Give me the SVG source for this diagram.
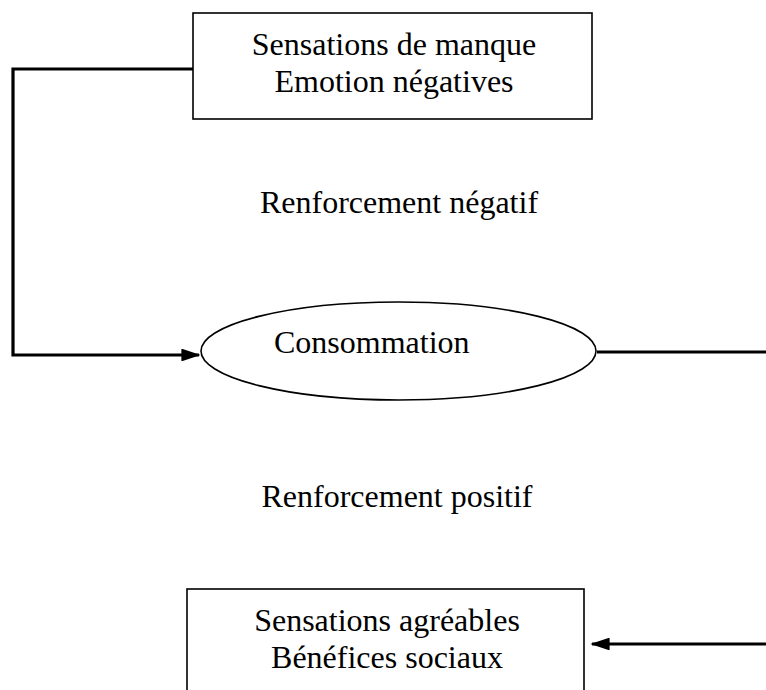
<svg xmlns="http://www.w3.org/2000/svg" width="766" height="690" viewBox="0 0 766 690">
<style>
.box{fill:#fff;stroke:#000;stroke-width:1.6}
.t{font-family:"Liberation Serif","Times New Roman",serif;font-size:32px;fill:#000}
.c{text-anchor:middle}
.conn{fill:none;stroke:#000;stroke-width:3.2}
</style>
<defs>
<marker id="ah" markerWidth="6" markerHeight="4" refX="5.5" refY="2" orient="auto" markerUnits="strokeWidth">
<path d="M0,0 L6,2 L0,4 Z" fill="#000"/>
</marker>
</defs>
<rect width="766" height="690" fill="#fff"/>
<g id="connectors">
<polyline class="conn" points="193,69 13,69 13,355 199,355" marker-end="url(#ah)"/>
<line class="conn" x1="597" y1="352" x2="766" y2="352"/>
<line class="conn" x1="766" y1="644" x2="592" y2="644" marker-end="url(#ah)"/>
</g>
<g id="n-manque">
<rect class="box" x="193" y="13" width="399" height="106"/>
<text class="t c" x="394" y="55">Sensations de manque</text>
<text class="t c" x="394" y="92">Emotion négatives</text>
</g>
<g id="l-negatif">
<text class="t c" x="399" y="213">Renforcement négatif</text>
</g>
<g id="n-consommation">
<ellipse class="box" cx="398.5" cy="351" rx="197.5" ry="49"/>
<text class="t" x="274" y="353">Consommation</text>
</g>
<g id="l-positif">
<text class="t c" x="397" y="507">Renforcement positif</text>
</g>
<g id="n-agreables">
<rect class="box" x="187" y="589" width="397" height="120"/>
<text class="t c" x="387" y="631">Sensations agréables</text>
<text class="t c" x="387" y="668">Bénéfices sociaux</text>
</g>
</svg>
